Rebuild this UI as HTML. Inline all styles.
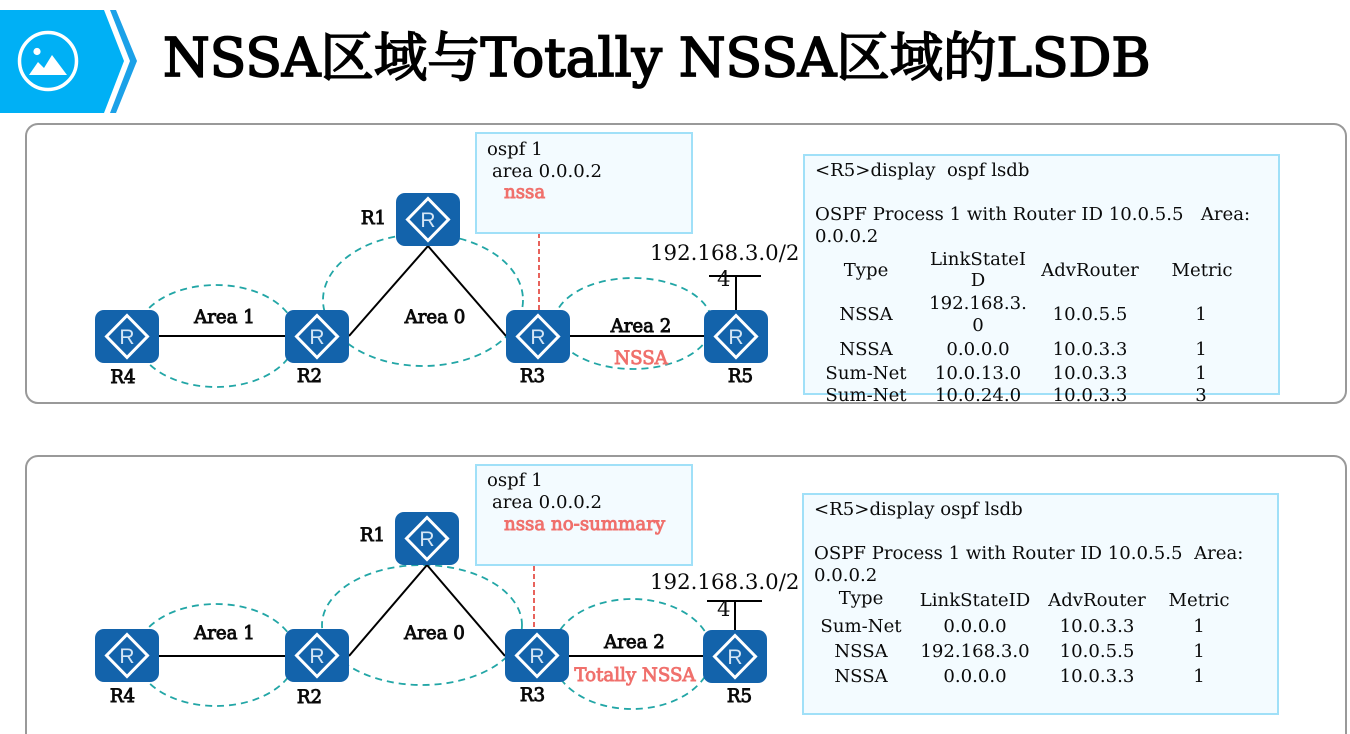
<!DOCTYPE html>
<html><head><meta charset="utf-8"><style>
html,body{margin:0;padding:0;background:#fff;width:1350px;height:734px;overflow:hidden}
svg{display:block}
text{font-family:"DejaVu Serif","Noto Serif CJK SC",serif;fill:#0a0a0a;font-size:18.1px;white-space:pre}
.l{font-size:18.2px;stroke:#0a0a0a;stroke-width:.9px}
.r{fill:#f0706c;stroke:#f0706c}
.m{text-anchor:middle}
.d{fill:none;stroke:#22a6a6;stroke-width:1.8;stroke-dasharray:7 5}
.k{stroke:#000;stroke-width:2;fill:none}
.p{fill:#fff;stroke:#999;stroke-width:2}
.c{fill:#f3fbff;stroke:#a0e0f8;stroke-width:2}
</style></head><body>
<svg width="1350" height="734" viewBox="0 0 1350 734" xmlns="http://www.w3.org/2000/svg">
<defs>
<g id="rt">
<rect width="64" height="53" rx="9" fill="#1363ab"/>
<polygon points="32,5.500 52.500,26.500 32,47.500 11.500,26.500" fill="none" stroke="#fff" stroke-width="3"/>
<text x="32" y="34" text-anchor="middle" style="font-family:'Liberation Sans',sans-serif;font-size:21px;fill:#d5e6f5">R</text>
</g>
</defs>

<polygon points="0,10 104,10 124,61 104,113 0,113" fill="#00b0f5"/>
<polygon points="110,10 116,10 137,61 116,113 110,113 130,61" fill="#1ba1e8"/>
<circle cx="48" cy="61" r="28.5" fill="none" stroke="#fff" stroke-width="3.5"/>
<circle cx="37" cy="51.500" r="3.600" fill="#fff"/>
<polygon points="29,75 38,62 44,68 52,55 67,75" fill="#fff"/>
<text x="163" y="76" style="font-size:53.400px;fill:#000;stroke:#000;stroke-width:1.800px">NSSA区域与Totally NSSA区域的LSDB</text>

<rect class="p" x="26" y="124" width="1320" height="279" rx="12"/>
<rect class="p" x="26" y="456" width="1320" height="300" rx="12"/>

<!-- top diagram -->
<ellipse class="d" cx="216" cy="336" rx="80" ry="51"/>
<ellipse class="d" cx="423" cy="300" rx="100" ry="66"/>
<ellipse class="d" cx="633" cy="323.500" rx="79" ry="45.500"/>
<path class="k" d="M159 336H285M349 336L428 246L506 336M570 336H704M736 310V276M709 276H761"/>
<path d="M539 233V310" fill="none" stroke="#e8635c" stroke-width="2" stroke-dasharray="5 3"/>
<use href="#rt" x="95" y="310"/><use href="#rt" x="285" y="310"/><use href="#rt" x="506" y="310"/><use href="#rt" x="704" y="310"/><use href="#rt" x="396" y="193"/>
<text class="l m" x="224.500" y="323">Area 1</text>
<text class="l m" x="435" y="323">Area 0</text>
<text class="l m" x="641" y="332">Area 2</text>
<text class="l m r" x="641" y="364">NSSA</text>
<text class="l m" x="123" y="383">R4</text>
<text class="l m" x="309.500" y="382">R2</text>
<text class="l m" x="532.500" y="382">R3</text>
<text class="l m" x="740.500" y="382">R5</text>
<text class="l m" x="373.500" y="224">R1</text>
<text x="650" y="260" style="font-size:21.300px">192.168.3.0/2</text>
<text x="717" y="286" style="font-size:21.300px">4</text>

<rect class="c" x="476" y="133" width="216" height="100"/>
<text x="487" y="155">ospf 1</text>
<text x="492" y="177">area 0.0.0.2</text>
<text x="504" y="198" class="l r">nssa</text>

<rect class="c" x="804" y="155" width="475" height="239"/>
<text x="815" y="176">&lt;R5&gt;display  ospf lsdb</text>
<text x="815" y="220">OSPF Process 1 with Router ID 10.0.5.5   Area:</text>
<text x="815" y="242">0.0.0.2</text>
<text class="m" x="866" y="276">Type</text><text class="m" x="978" y="265">LinkStateI</text><text class="m" x="978" y="286">D</text><text class="m" x="1090" y="276">AdvRouter</text><text class="m" x="1202" y="276">Metric</text>
<text class="m" x="866" y="320">NSSA</text><text class="m" x="978" y="309">192.168.3.</text><text class="m" x="978" y="331">0</text><text class="m" x="1090" y="320">10.0.5.5</text><text class="m" x="1201" y="320">1</text>
<text class="m" x="866" y="355">NSSA</text><text class="m" x="978" y="355">0.0.0.0</text><text class="m" x="1090" y="355">10.0.3.3</text><text class="m" x="1201" y="355">1</text>
<text class="m" x="866" y="379">Sum-Net</text><text class="m" x="978" y="379">10.0.13.0</text><text class="m" x="1090" y="379">10.0.3.3</text><text class="m" x="1201" y="379">1</text>
<text class="m" x="866" y="401">Sum-Net</text><text class="m" x="978" y="401">10.0.24.0</text><text class="m" x="1090" y="401">10.0.3.3</text><text class="m" x="1201" y="401">3</text>

<!-- bottom diagram -->
<ellipse class="d" cx="216" cy="655" rx="80" ry="51"/>
<ellipse class="d" cx="422" cy="625" rx="100" ry="60"/>
<ellipse class="d" cx="632" cy="654" rx="80" ry="55"/>
<path class="k" d="M159 656H285M349 656L427 565L505 656M569 656H703M735 630V602M707 601H762"/>
<path d="M534 566V629" fill="none" stroke="#e8635c" stroke-width="2" stroke-dasharray="5 3"/>
<use href="#rt" x="95" y="629"/><use href="#rt" x="285" y="629"/><use href="#rt" x="505" y="629"/><use href="#rt" x="703" y="630"/><use href="#rt" x="395" y="512"/>
<text class="l m" x="224.500" y="639">Area 1</text>
<text class="l m" x="434.500" y="639">Area 0</text>
<text class="l m" x="634.500" y="648">Area 2</text>
<text class="l m r" x="635" y="681">Totally NSSA</text>
<text class="l m" x="122.500" y="702">R4</text>
<text class="l m" x="309.500" y="703">R2</text>
<text class="l m" x="532.500" y="701">R3</text>
<text class="l m" x="739.500" y="702">R5</text>
<text class="l m" x="372.500" y="541">R1</text>
<text x="650" y="589" style="font-size:21.300px">192.168.3.0/2</text>
<text x="717" y="616" style="font-size:21.300px">4</text>

<rect class="c" x="476" y="465" width="216" height="100"/>
<text x="487" y="486">ospf 1</text>
<text x="492" y="508">area 0.0.0.2</text>
<text x="504" y="530" class="l r">nssa no-summary</text>

<rect class="c" x="803" y="494" width="475" height="220"/>
<text x="814" y="515">&lt;R5&gt;display ospf lsdb</text>
<text x="814" y="559">OSPF Process 1 with Router ID 10.0.5.5  Area:</text>
<text x="814" y="581">0.0.0.2</text>
<text class="m" x="861" y="604">Type</text><text class="m" x="975" y="606">LinkStateID</text><text class="m" x="1097" y="606">AdvRouter</text><text class="m" x="1199" y="606">Metric</text>
<text class="m" x="861" y="632">Sum-Net</text><text class="m" x="975" y="632">0.0.0.0</text><text class="m" x="1097" y="632">10.0.3.3</text><text class="m" x="1199" y="632">1</text>
<text class="m" x="861" y="657">NSSA</text><text class="m" x="975" y="657">192.168.3.0</text><text class="m" x="1097" y="657">10.0.5.5</text><text class="m" x="1199" y="657">1</text>
<text class="m" x="861" y="682">NSSA</text><text class="m" x="975" y="682">0.0.0.0</text><text class="m" x="1097" y="682">10.0.3.3</text><text class="m" x="1199" y="682">1</text>
</svg>
</body></html>
